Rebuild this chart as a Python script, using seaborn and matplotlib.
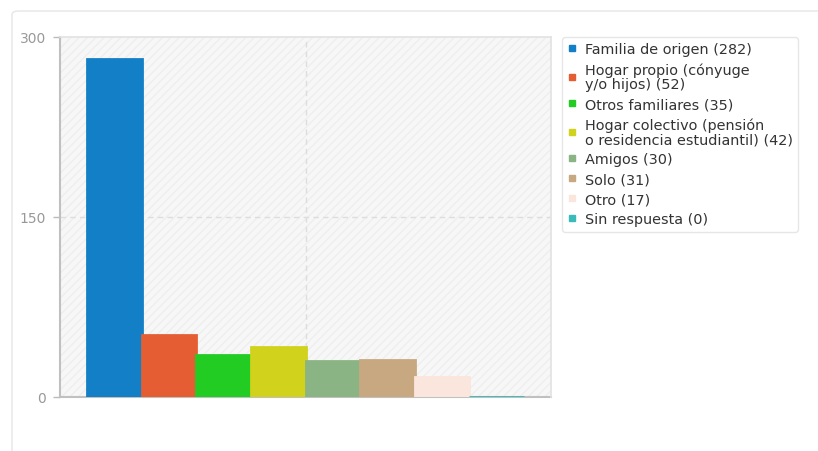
import matplotlib
matplotlib.use("Agg")
import matplotlib.pyplot as plt
from matplotlib.lines import Line2D
from matplotlib.patches import FancyBboxPatch, Rectangle
import pandas as pd
import seaborn as sns

categorias = ["Familia de origen", "Hogar propio (cónyuge\ny/o hijos)", "Otros familiares",
              "Hogar colectivo (pensión\no residencia estudiantil)", "Amigos", "Solo", "Otro",
              "Sin respuesta"]
valores = [282, 52, 35, 42, 30, 31, 17, 0]
colores = ["#127fc6", "#e55e33", "#22cc22", "#d0d21c", "#8ab483", "#c8a880", "#fae6dc", "#3ababa"]

df = pd.DataFrame({"cat": categorias, "n": valores})

sns.set_style("white")
plt.rcParams["font.family"] = ["DejaVu Sans"]

fig = plt.figure(figsize=(8.18, 4.52), dpi=100)

# card behind the chart
card = FancyBboxPatch((12 / 818, -0.05), 1.0, 1 - 12 / 452 + 0.05,
                      boxstyle="round,pad=0,rounding_size=0.008",
                      transform=fig.transFigure, facecolor="white",
                      edgecolor="#e6e6e6", linewidth=1.0, zorder=-5)
fig.patches.append(card)

ax = fig.add_axes([60 / 818, 1 - 398 / 452, 491 / 818, 360 / 452])
ax.set_facecolor("#f7f7f7")
ax.add_patch(Rectangle((0, 0), 1, 1, transform=ax.transAxes, facecolor="none",
                       edgecolor="#eeeeee", hatch="////", linewidth=0, zorder=0))

sns.barplot(data=df, x="cat", y="n", hue="cat", palette=colores, width=1.0,
            dodge=False, legend=False, ax=ax, saturation=1, zorder=3)
for bar, c in zip(ax.patches[1:], colores):
    bar.set_edgecolor(c)
    bar.set_linewidth(2.0)

ax.set_xlim(-1.0, len(valores))
ax.set_ylim(0, 300)
ax.set_yticks([0, 150, 300])
ax.set_xticks([])
ax.set_xlabel("")
ax.set_ylabel("")
ax.tick_params(axis="y", colors="#bbbbbb", labelcolor="#999999", labelsize=10,
               length=5, width=1, pad=5, left=True)
ax.axhline(150, color="#dddddd", linestyle=(0, (4, 3)), linewidth=1, zorder=1)
ax.axvline(sum(ax.get_xlim()) / 2, color="#dddddd", linestyle=(0, (4, 3)),
           linewidth=1, zorder=1)

for s in ["top", "right"]:
    ax.spines[s].set_color("#e2e2e2")
    ax.spines[s].set_linewidth(1.2)
for s in ["left", "bottom"]:
    ax.spines[s].set_color("#c0c0c0")
    ax.spines[s].set_linewidth(1.5)
    ax.spines[s].set_zorder(2)

handles = [Line2D([0], [0], marker="s", linestyle="none", markersize=4.5,
                  markerfacecolor=c, markeredgecolor=c) for c in colores]
labels = [f"{c} ({v})" for c, v in zip(categorias, valores)]
leg = fig.legend(handles, labels, loc="upper left",
                 bbox_to_anchor=(562 / 818, 1 - 38 / 452), borderaxespad=0,
                 frameon=True, fontsize=10.4, handlelength=0.6, handletextpad=0.6,
                 labelspacing=0.42, borderpad=0.38, fancybox=True,
                 labelcolor="#333333")
for t in leg.get_texts():
    t.set_linespacing(1.02)
leg.get_frame().set_edgecolor("#e0e0e0")
leg.get_frame().set_facecolor("white")
leg.get_frame().set_linewidth(1)

fig.savefig("out.png", dpi=100)
